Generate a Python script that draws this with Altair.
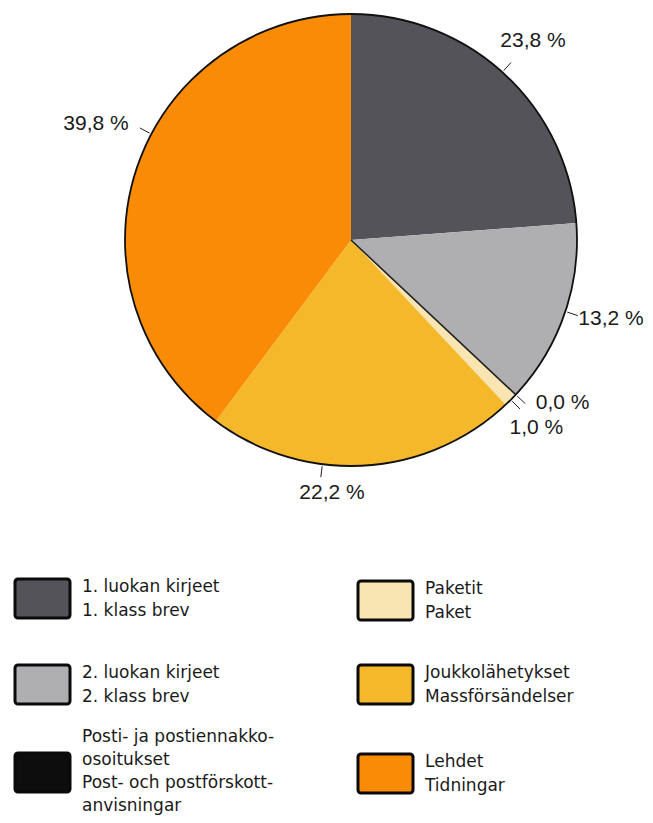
import math
import altair as alt
import pandas as pd

# ---------------- data ----------------
categories = [
    "1. luokan kirjeet",
    "2. luokan kirjeet",
    "Posti- ja postiennakko-osoitukset",
    "Paketit",
    "Joukkolähetykset",
    "Lehdet",
]
shares = [23.8, 13.2, 0.0, 1.0, 22.2, 39.8]
share_labels = ["23,8 %", "13,2 %", "0,0 %", "1,0 %", "22,2 %", "39,8 %"]
colors = ["#535359", "#afafb2", "#0d0d0d", "#f8e5b2", "#f6b82b", "#fa8b06"]

legend_lines = [
    ["1. luokan kirjeet", "1. klass brev"],
    ["2. luokan kirjeet", "2. klass brev"],
    ["Posti- ja postiennakko-", "osoitukset", "Post- och postförskott-", "anvisningar"],
    ["Paketit", "Paket"],
    ["Joukkolähetykset", "Massförsändelser"],
    ["Lehdet", "Tidningar"],
]

# ---------------- layout ----------------
M = 8                      # page margin
CX, CY, R = 351 - M, 240 - M, 226
FONT = "DejaVu Sans"
LABEL_FONT = "Liberation Sans"
LEADER_NUDGE = [-0.8, -1.0, 0.0, 0.0, 10.5, 9.6]          # degrees
LEADER_R = (228, 239)
LABEL_POLAR = [(42.4, 270), (106.9, 271.7), (127.6, 267),
               (135.4, 264), (184.3, 254), (294.4, 280)]   # (deg, px)
BOX_X = [15, 15, 15, 358, 358, 358]
BOX_Y = [579, 665, 753, 581, 665, 754]
BOX_W, BOX_H = 55, 39
TEXT_DX = 67
LINE_GAP = [24, 24, 23, 24, 24, 24]
TEXT_SHIFT = [0, 0, -1, 0, 0, 0]


def polar(deg, r):
    a = math.radians(deg)
    return CX + r * math.sin(a), CY - r * math.cos(a)


# cumulative angles from the data
total = sum(shares)
starts, mids = [], []
acc = 0.0
for s in shares:
    starts.append(acc / total * 360)
    mids.append((acc + s / 2) / total * 360)
    acc += s

pie_df = pd.DataFrame({"category": categories, "share": shares,
                       "idx": list(range(len(categories)))})

# leader lines + boundary line of the 0.0 % slice
rule_rows = []
for i in range(len(categories)):
    ang = mids[i] + LEADER_NUDGE[i]
    x1, y1 = polar(ang, LEADER_R[0])
    x2, y2 = polar(ang, LEADER_R[1])
    rule_rows.append({"x": x1, "y": y1, "x2": x2, "y2": y2, "w": 1.0})
zero_i = shares.index(0.0)
bx, by = polar(starts[zero_i], R)
rule_rows.append({"x": CX, "y": CY, "x2": bx, "y2": by, "w": 1.6})
rule_df = pd.DataFrame(rule_rows)

label_rows = []
for i, lab in enumerate(share_labels):
    x, y = polar(*LABEL_POLAR[i])
    label_rows.append({"x": x, "y": y, "text": lab})
label_df = pd.DataFrame(label_rows)

box_df = pd.DataFrame({
    "x": [b - M for b in BOX_X],
    "x2": [b - M + BOX_W for b in BOX_X],
    "y": [b - M for b in BOX_Y],
    "y2": [b - M + BOX_H for b in BOX_Y],
    "fill": colors,
})

text_rows = []
for i, lines in enumerate(legend_lines):
    cy = BOX_Y[i] - M + BOX_H / 2 + TEXT_SHIFT[i]
    n = len(lines)
    for j, t in enumerate(lines):
        text_rows.append({"x": BOX_X[i] - M + TEXT_DX,
                          "y": cy + (j - (n - 1) / 2) * LINE_GAP[i],
                          "text": t})
text_df = pd.DataFrame(text_rows)

# ---------------- chart ----------------
pie = alt.Chart(pie_df).mark_arc(radius=R, strokeWidth=0).encode(
    theta=alt.Theta("share:Q", stack=True),
    color=alt.Color("category:N",
                    scale=alt.Scale(domain=categories, range=colors),
                    legend=None),
    order=alt.Order("idx:Q"),
    x=alt.value(CX),
    y=alt.value(CY),
)

outline = alt.Chart(pd.DataFrame({"k": [1]})).mark_arc(
    radius=R, theta=0, theta2=2 * math.pi, fillOpacity=0,
    stroke="#111111", strokeWidth=1.8,
).encode(x=alt.value(CX), y=alt.value(CY))

rules = alt.Chart(rule_df).mark_rule(color="#222222").encode(
    x=alt.X("x:Q", scale=None), y=alt.Y("y:Q", scale=None),
    x2="x2:Q", y2="y2:Q",
    strokeWidth=alt.StrokeWidth("w:Q", scale=None),
)

labels = alt.Chart(label_df).mark_text(
    font=LABEL_FONT, fontSize=21, color="#1a1a1a", align="center", baseline="middle",
).encode(x=alt.X("x:Q", scale=None), y=alt.Y("y:Q", scale=None), text="text:N")

boxes = alt.Chart(box_df).mark_rect(
    cornerRadius=3, stroke="#0a0a0a", strokeWidth=3,
).encode(
    x=alt.X("x:Q", scale=None), x2="x2:Q",
    y=alt.Y("y:Q", scale=None), y2="y2:Q",
    fill=alt.Fill("fill:N", scale=None),
)

legend_text = alt.Chart(text_df).mark_text(
    font=FONT, fontSize=17, color="#1a1a1a", align="left", baseline="middle",
).encode(x=alt.X("x:Q", scale=None), y=alt.Y("y:Q", scale=None), text="text:N")

chart = alt.layer(pie, outline, rules, labels, boxes, legend_text).properties(
    width=637, height=807, padding=0,
    autosize=alt.AutoSizeParams(type="none"),
).configure_view(stroke=None)

chart.save("out.html", embed_options={"renderer": "svg", "actions": False})
